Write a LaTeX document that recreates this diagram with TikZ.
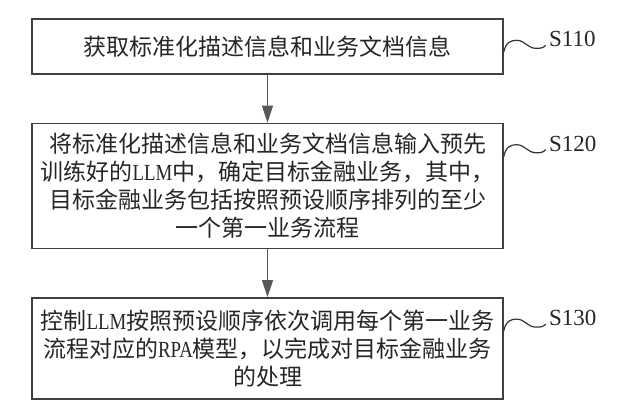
\documentclass[tikz,border=0pt]{standalone}
\usepackage{fontspec}
\setmainfont{Liberation Serif}
\newfontfamily\cjk{Noto Sans CJK SC}
\newfontfamily\latfont[FakeStretch=0.82]{Liberation Serif}
\newcommand{\lat}[1]{{\latfont #1}}
\usepackage{tikz}
\usetikzlibrary{positioning,arrows.meta}
\usepackage{xcolor}

\begin{document}
\begin{tikzpicture}[>={Triangle[length=8.5pt,width=5.5pt]},
    procbox/.style={draw=black!75, line width=0.7pt, text=black!85, minimum width=235.5pt,
        align=center, inner sep=2pt, font=\cjk\fontsize{11.5}{14}\selectfont},
    steplabel/.style={anchor=west, inner sep=0pt, text=black!85, font=\fontsize{11.5}{13}\selectfont},
    wave/.style={draw=black!80, line width=0.6pt},
    flow/.style={->, draw=black!65, line width=0.6pt}]
    % Page frame
    \useasboundingbox (0pt, 0pt) rectangle (312pt, -206pt);

    % Process steps
    \node[procbox, minimum height=27.5pt] (b110) at (133.75pt, -23.25pt) {获取标准化描述信息和业务文档信息};
    \node[procbox, minimum height=62.5pt, below=24pt of b110] (b120) {将标准化描述信息和业务文档信息输入预先\\训练好的\lat{LLM}中，确定目标金融业务，其中，\\目标金融业务包括按照预设顺序排列的至少\\一个第一业务流程};
    \node[procbox, minimum height=50.5pt, below=24pt of b120] (b130) {控制\lat{LLM}按照预设顺序依次调用每个第一业务\\流程对应的\lat{RPA}模型，以完成对目标金融业务\\的处理};

    % Flow arrows
    \draw[flow] (b110) -- (b120);
    \draw[flow] (b120) -- (b130);

    % Step numbers
    \node[steplabel] (l110) at ([xshift=22.5pt, yshift=-10.5pt]b110.north east) {S110};
    \node[steplabel] (l120) at ([xshift=22.5pt, yshift=-10.5pt]b120.north east) {S120};
    \node[steplabel] (l130) at ([xshift=22.5pt, yshift=-10.5pt]b130.north east) {S130};

    % Wavy leaders from box to step number
    \draw[wave] ([yshift=-17pt]b110.north east) .. controls +(1pt,5pt) and +(-3pt,0pt) .. ++(6.5pt,6pt)
        .. controls +(4pt,0pt) and +(-4pt,0pt) .. ++(9.5pt,-4pt)
        .. controls +(2.5pt,0pt) and +(-1.5pt,-1.5pt) .. ([xshift=-1.5pt, yshift=-3pt]l110.west);
    \draw[wave] ([yshift=-17pt]b120.north east) .. controls +(1pt,5pt) and +(-3pt,0pt) .. ++(6.5pt,6pt)
        .. controls +(4pt,0pt) and +(-4pt,0pt) .. ++(9.5pt,-4pt)
        .. controls +(2.5pt,0pt) and +(-1.5pt,-1.5pt) .. ([xshift=-1.5pt, yshift=-3pt]l120.west);
    \draw[wave] ([yshift=-17pt]b130.north east) .. controls +(1pt,5pt) and +(-3pt,0pt) .. ++(6.5pt,6pt)
        .. controls +(4pt,0pt) and +(-4pt,0pt) .. ++(9.5pt,-4pt)
        .. controls +(2.5pt,0pt) and +(-1.5pt,-1.5pt) .. ([xshift=-1.5pt, yshift=-3pt]l130.west);
\end{tikzpicture}
\end{document}
